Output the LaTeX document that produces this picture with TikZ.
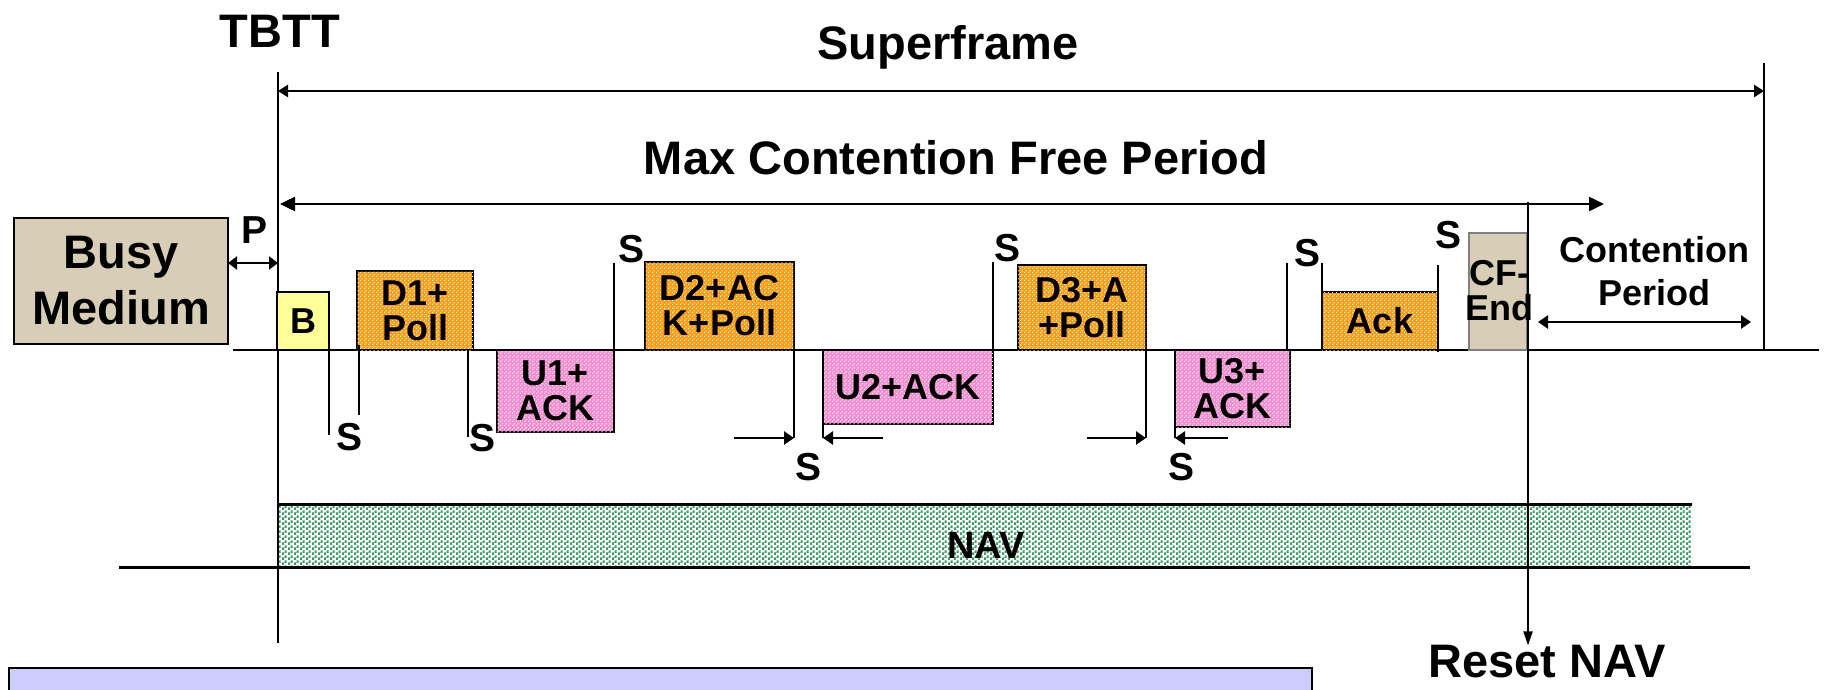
\documentclass[tikz,border=0pt]{standalone}
\usepackage{fontspec}
\setmainfont{Liberation Sans}
\usetikzlibrary{arrows.meta,patterns}
\pgfdeclarepatternformonly{chk}{\pgfqpoint{0pt}{0pt}}{\pgfqpoint{4pt}{4pt}}{\pgfqpoint{4pt}{4pt}}{%
  \pgfpathrectangle{\pgfqpoint{0pt}{0pt}}{\pgfqpoint{1.4pt}{1.4pt}}%
  \pgfpathrectangle{\pgfqpoint{2pt}{2pt}}{\pgfqpoint{1.4pt}{1.4pt}}%
  \pgfusepath{fill}}
\pgfdeclarepatternformonly{navdots}{\pgfqpoint{0pt}{0pt}}{\pgfqpoint{6pt}{5pt}}{\pgfqpoint{6pt}{5pt}}{%
  \pgfpathrectangle{\pgfqpoint{0pt}{0pt}}{\pgfqpoint{2.5pt}{3pt}}%
  \pgfpathrectangle{\pgfqpoint{3pt}{2.5pt}}{\pgfqpoint{2.5pt}{3pt}}%
  \pgfusepath{fill}}
\definecolor{orangebase}{HTML}{FF9A10}
\definecolor{pinkbase}{HTML}{F48BD0}
\definecolor{beigebox}{HTML}{D8CDB6}
\definecolor{yellowbox}{HTML}{FFFF99}
\definecolor{navgreen}{HTML}{3A9A62}
\definecolor{lavender}{HTML}{CCCCFF}
\begin{document}
\begin{tikzpicture}[x=1pt,y=-1pt,
  big/.style={font=\fontsize{47}{56}\selectfont\bfseries, inner sep=0pt},
  mid/.style={font=\fontsize{36}{35}\selectfont\bfseries, inner sep=0pt, align=center},
  slab/.style={font=\fontsize{39}{40}\selectfont\bfseries, inner sep=0pt},
  box/.style={draw, line width=2pt, outer sep=0pt, inner sep=0pt, align=center,
              font=\fontsize{36}{35}\selectfont\bfseries},
  obox/.style={box, fill=orangebase, postaction={pattern=chk, pattern color=white}},
  pbox/.style={box, fill=pinkbase, postaction={pattern=chk, pattern color=white}},
  thin/.style={line width=2pt},
  dim/.style={line width=2.5pt, {Triangle[length=10pt,width=12pt]}-{Triangle[length=10pt,width=12pt]}},
  sarrow/.style={line width=2.5pt, -{Triangle[length=10pt,width=13pt]}}
]
\useasboundingbox (0,0) rectangle (1824,689);

% titles
\node[big] (tbtt) at (280,31) {TBTT};
\node[big] (sf) at (948,47) {Superframe};
\node[big] (mcfp) at (956,158) {Max Contention Free Period};

% vertical reference lines
\coordinate (tbttTop) at (278,72);
\coordinate (tbttBot) at (278,643);
\draw[thin] (tbttTop) -- (tbttBot);
\coordinate (sfR) at (1764,63);
\coordinate (sfRb) at (1764,350);
\draw[thin] (sfR) -- (sfRb);

% superframe and CFP arrows
\coordinate (sfa) at (278,91);
\coordinate (sfb) at (1764,91);
\draw[dim] (sfa) -- (sfb);
\coordinate (cfa) at (280,204);
\coordinate (cfb) at (1604,204);
\draw[line width=2.5pt, {Triangle[length=15pt,width=14pt]}-{Triangle[length=15pt,width=14pt]}] (cfa) -- (cfb);

% baseline
\coordinate (bl0) at (233,350);
\coordinate (bl1) at (1819,350);
\draw[thin] (bl0) -- (bl1);

% busy medium
\node[box, fill=beigebox, minimum width=214pt, minimum height=126pt,
      font=\fontsize{47}{56}\selectfont\bfseries] (busy) at (121,281) {Busy\\Medium};
\node[slab] (p) at (255,230) {P};
\coordinate (pa) at (278,263);
\draw[line width=2.5pt, {Triangle[length=9pt,width=13pt]}-{Triangle[length=9pt,width=13pt]}] (busy.east |- pa) -- (pa);

% frames
\node[box, fill=yellowbox, minimum width=52pt, minimum height=58pt] (b) at (303,321) {\raisebox{-6pt}{B}};
\node[obox, minimum width=116pt, minimum height=79pt] (d1) at (415,310.5) {D1+\\Poll};
\node[pbox, minimum width=117pt, minimum height=82pt] (u1) at (555.5,391) {U1+\\ACK};
\node[obox, minimum width=149pt, minimum height=88pt] (d2) at (719.5,306) {D2+AC\\K+Poll};
\node[pbox, minimum width=170pt, minimum height=74pt] (u2) at (908,387) {U2+ACK};
\node[obox, minimum width=128pt, minimum height=85pt] (d3) at (1082,307.5) {D3+A\\+Poll};
\node[pbox, minimum width=115pt, minimum height=77pt] (u3) at (1232.5,388.5) {U3+\\ACK};
\node[obox, minimum width=116pt, minimum height=58pt] (ack) at (1380,321) {\raisebox{-6pt}{Ack}};
\node[draw=gray, line width=2.5pt, fill=beigebox, minimum width=58pt, minimum height=117pt, outer sep=0pt] (cfend) at (1498,291.5) {};
\node[mid] (cfendt) at (1499,291) {CF-\\End};

% SIFS marker lines
\draw[thin] (b.south east) -- (329,435);
\draw[thin] (359,345) -- (359,415);
\draw[thin] (468,350) -- (468,437);
\draw[thin] (u1.south east) -- (614,263);
\draw[thin] (d2.south east) -- (794,438);
\draw[thin] (u2.north west) -- (823,438);
\draw[thin] (u2.north east) -- (993,262);
\draw[thin] (d3.south east) -- (1146,438);
\draw[thin] (u3.north west) -- (1175,438);
\draw[thin] (1287,350) -- (1287,263);
\draw[thin] (ack.south west) -- (1322,263);
\draw[thin] (1438,352) -- (1438,265);

% SIFS arrows
\coordinate (a1) at (734,438); \coordinate (a1e) at (794,438);
\coordinate (a2) at (883,438); \coordinate (a2e) at (823,438);
\coordinate (a3) at (1087,438); \coordinate (a3e) at (1146,438);
\coordinate (a4) at (1228,438); \coordinate (a4e) at (1175,438);
\draw[sarrow] (a1) -- (a1e);
\draw[sarrow] (a2) -- (a2e);
\draw[sarrow] (a3) -- (a3e);
\draw[sarrow] (a4) -- (a4e);

% S labels
\node[slab] (s1) at (350,437) {S};
\node[slab] (s2) at (483,438) {S};
\node[slab] (s3) at (631,249) {S};
\node[slab] (s4) at (808,467) {S};
\node[slab] (s5) at (1007,248) {S};
\node[slab] (s6) at (1181,467) {S};
\node[slab] (s7) at (1307,253) {S};
\node[slab] (s8) at (1448,235) {S};

% contention period
\node[mid, font=\fontsize{36}{43}\selectfont\bfseries] (cp) at (1654,271) {Contention\\Period};
\coordinate (cpa) at (1538,322);
\coordinate (cpb) at (1751,322);
\draw[line width=2.5pt, {Triangle[length=10pt,width=13pt]}-{Triangle[length=10pt,width=13pt]}] (cpa) -- (cpb);

% NAV
\fill[white] (279,504) rectangle (1692,567);
\fill[pattern=navdots, pattern color=navgreen] (279,504) rectangle (1692,567);
\node[mid, font=\fontsize{38}{40}\selectfont\bfseries] (nav) at (986,545) {NAV};
\draw[line width=3pt] (279,504) -- (1692,504);
\coordinate (nv0) at (119,567);
\coordinate (nv1) at (1750,567);
\draw[line width=3pt] (nv0) -- (nv1);

% reset NAV
\node[big] (reset) at (1547,662) {Reset NAV};
\coordinate (rtop) at (1528,202);
\draw[line width=2pt, -{Triangle[length=14pt,width=9pt]}] (rtop) -- (reset.north -| rtop);

% bottom lavender box
\draw[line width=2pt, fill=lavender] (9,668) rectangle (1312,700);
\end{tikzpicture}
\end{document}
